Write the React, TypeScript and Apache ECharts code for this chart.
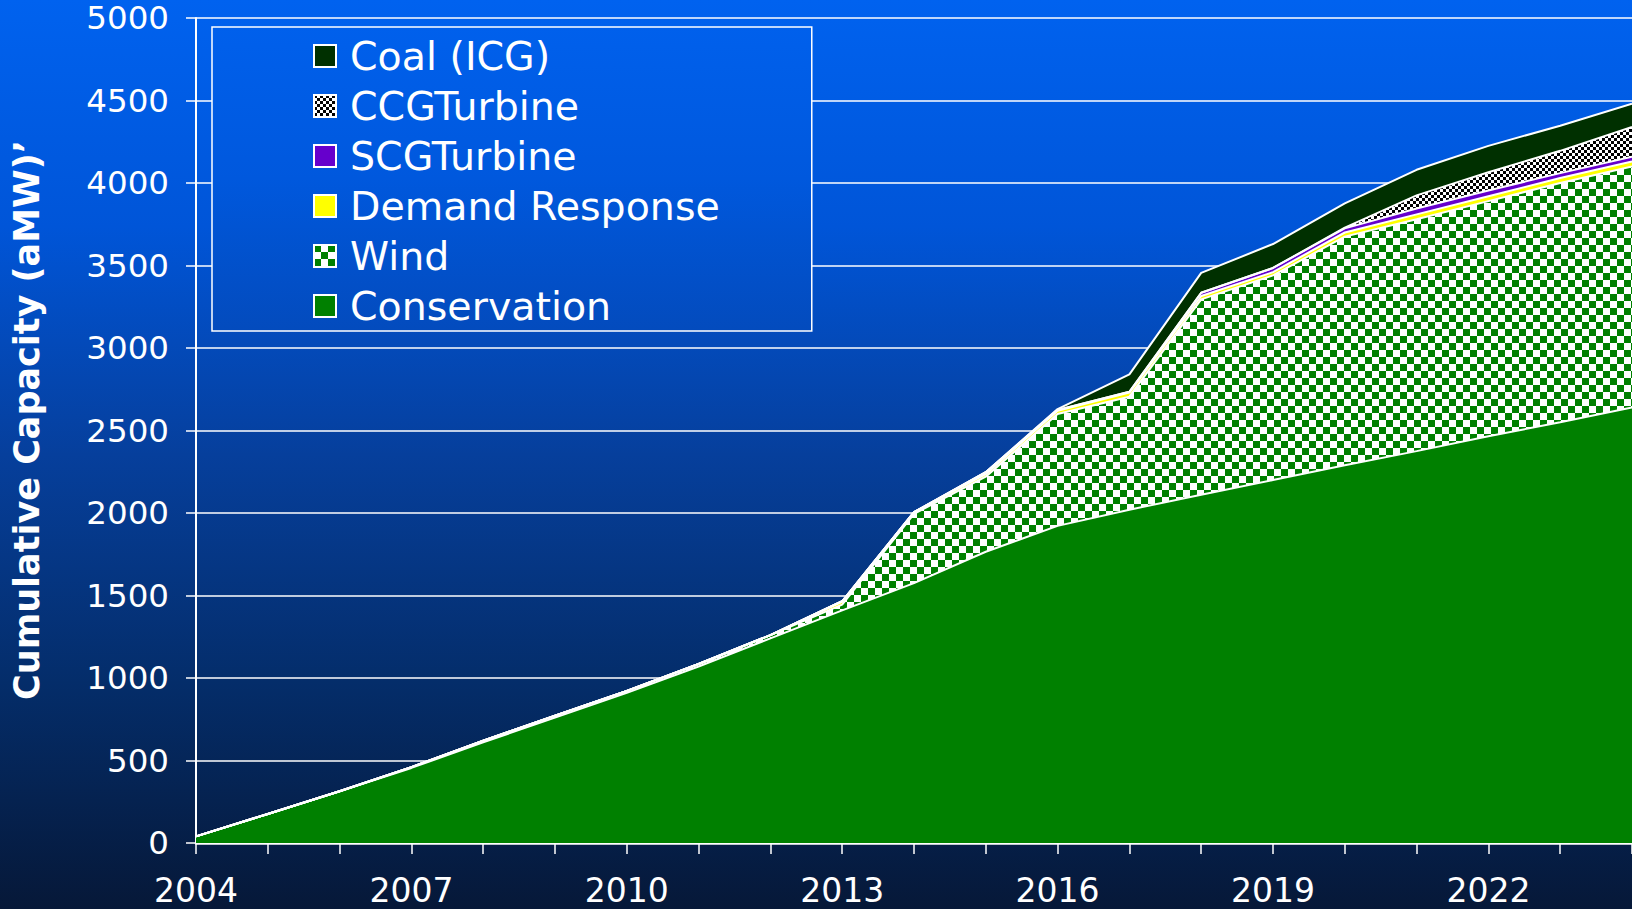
import React, { useEffect, useRef } from 'react';
import * as echarts from 'echarts';

const years = ['2004', '2005', '2006', '2007', '2008', '2009', '2010', '2011', '2012', '2013', '2014', '2015', '2016', '2017', '2018', '2019', '2020', '2021', '2022', '2023', '2024'];
const conservation = [40, 176, 314, 455, 610, 760, 910, 1070, 1240, 1410, 1575, 1765, 1922, 2020, 2110, 2200, 2290, 2375, 2465, 2550, 2640];
const wind = [0, 0, 0, 5, 10, 12, 12, 15, 20, 35, 420, 455, 678, 685, 1185, 1240, 1385, 1405, 1425, 1450, 1460];
const demandResponse = [0, 0, 0, 0, 0, 0, 0, 0, 0, 20, 10, 15, 20, 25, 20, 20, 25, 30, 30, 30, 30];
const scgTurbine = [0, 0, 0, 0, 0, 0, 0, 0, 0, 0, 0, 12, 5, 5, 20, 25, 25, 35, 35, 30, 30];
const ccgTurbine = [0, 0, 0, 0, 0, 0, 0, 0, 0, 0, 0, 0, 0, 0, 0, 0, 5, 80, 110, 135, 180];
const coal = [0, 0, 0, 0, 0, 0, 0, 0, 0, 0, 0, 0, 5, 105, 120, 145, 147, 155, 160, 152, 140];

const seriesNames = ['Conservation', 'Wind', 'Demand Response', 'SCGTurbine', 'CCGTurbine', 'Coal (ICG)'];
const legendOrder = ['Coal (ICG)', 'CCGTurbine', 'SCGTurbine', 'Demand Response', 'Wind', 'Conservation'];
const yAxisTitle = 'Cumulative Capacity (aMW)’';

const FONT = '"DejaVu Sans", Verdana, sans-serif';
const H = 909;

// background gradient stops: [fraction, [r,g,b]]
const bgStops: [number, number[]][] = [
  [0, [0, 98, 239]],
  [0.25, [0, 85, 216]],
  [0.5, [6, 63, 156]],
  [0.75, [4, 45, 106]],
  [1, [6, 24, 56]],
];

function bgAt(f: number): string {
  for (let i = 0; i < bgStops.length - 1; i++) {
    const [f0, c0] = bgStops[i];
    const [f1, c1] = bgStops[i + 1];
    if (f >= f0 && f <= f1) {
      const t = (f - f0) / (f1 - f0);
      const c = c0.map((v, k) => Math.round(v + (c1[k] - v) * t));
      return `rgb(${c[0]},${c[1]},${c[2]})`;
    }
  }
  const c = bgStops[bgStops.length - 1][1];
  return `rgb(${c[0]},${c[1]},${c[2]})`;
}

function checker(size: number, c1: string, c2: string): any {
  const cv = document.createElement('canvas');
  cv.width = size * 2;
  cv.height = size * 2;
  const ctx = cv.getContext('2d')!;
  ctx.fillStyle = c2;
  ctx.fillRect(0, 0, size * 2, size * 2);
  ctx.fillStyle = c1;
  ctx.fillRect(0, 0, size, size);
  ctx.fillRect(size, size, size, size);
  return { image: cv, repeat: 'repeat', imageWidth: size * 2, imageHeight: size * 2 };
}

export default function App() {
  const ref = useRef<HTMLDivElement>(null);

  useEffect(() => {
    if (!ref.current) return;
    const chart = echarts.init(ref.current, null, { renderer: 'svg' });

    const windPattern = checker(7, '#008000', '#ffffff');
    const ccgPattern = checker(3, '#000000', '#ffffff');

    const fills: Record<string, any> = {
      'Conservation': '#008000',
      'Wind': windPattern,
      'Demand Response': '#ffff00',
      'SCGTurbine': '#6600cc',
      'CCGTurbine': ccgPattern,
      'Coal (ICG)': '#003000',
    };
    const dataMap: Record<string, number[]> = {
      'Conservation': conservation,
      'Wind': wind,
      'Demand Response': demandResponse,
      'SCGTurbine': scgTurbine,
      'CCGTurbine': ccgTurbine,
      'Coal (ICG)': coal,
    };

    const legendTop = 27;
    const legendBottom = 331;

    const option: any = {
      animation: false,
      backgroundColor: 'transparent',
      textStyle: { fontFamily: FONT },
      grid: { left: 196, right: -6, top: 18, bottom: 66, containLabel: false },
      legend: {
        show: true,
        orient: 'vertical',
        left: 212,
        top: legendTop,
        icon: 'rect',
        itemWidth: 22,
        itemHeight: 22,
        itemGap: 10,
        padding: [9, 92, 5, 101],
        selectedMode: false,
        borderColor: '#ffffff',
        borderWidth: 1.5,
        backgroundColor: new echarts.graphic.LinearGradient(0, 0, 0, 1, [
          { offset: 0, color: bgAt(legendTop / H) },
          { offset: 0.5, color: bgAt((legendTop + legendBottom) / 2 / H) },
          { offset: 1, color: bgAt(legendBottom / H) },
        ]),
        textStyle: {
          color: '#ffffff',
          fontSize: 39.5,
          lineHeight: 40,
          fontFamily: FONT,
          padding: [0, 0, 0, 9],
        },
        data: legendOrder.map((n) => ({
          name: n,
          itemStyle: { color: fills[n], borderColor: '#ffffff', borderWidth: 2 },
        })),
      },
      xAxis: {
        type: 'category',
        data: years,
        boundaryGap: false,
        axisLine: { show: true, lineStyle: { color: '#ffffff', width: 2.5 } },
        axisTick: { show: true, interval: 0, length: 11, lineStyle: { color: '#ffffff', width: 1.5 } },
        axisLabel: {
          interval: 2,
          color: '#ffffff',
          fontSize: 33,
          margin: 31,
          fontFamily: FONT,
        },
        splitLine: { show: false },
      },
      yAxis: {
        type: 'value',
        min: 0,
        max: 5000,
        interval: 500,
        axisLine: { show: true, lineStyle: { color: '#ffffff', width: 2 } },
        axisTick: { show: true, length: 10, lineStyle: { color: '#ffffff', width: 1.5 } },
        axisLabel: {
          color: '#ffffff',
          fontSize: 32.5,
          margin: 27,
          fontFamily: FONT,
          formatter: (v: number) => String(v),
        },
        splitLine: { show: true, lineStyle: { color: '#ffffff', width: 1.5 } },
      },
      graphic: [
        {
          type: 'text',
          x: 27,
          y: 420,
          rotation: Math.PI / 2,
          style: {
            text: yAxisTitle,
            fill: '#ffffff',
            fontSize: 35,
            fontWeight: 'bold',
            fontFamily: FONT,
            align: 'center',
            verticalAlign: 'middle',
          },
        },
      ],
      series: seriesNames.map((n) => ({
        name: n,
        type: 'line',
        stack: 'total',
        data: dataMap[n],
        symbol: 'none',
        showSymbol: false,
        lineStyle: { color: '#ffffff', width: 2 },
        itemStyle: { color: fills[n] },
        areaStyle: { color: fills[n], opacity: 1 },
        emphasis: { disabled: true },
        silent: true,
      })),
    };

    chart.setOption(option);
    return () => chart.dispose();
  }, []);

  const grad = `linear-gradient(to bottom, ${bgStops
    .map(([f]) => `${bgAt(f)} ${(f * 100).toFixed(1)}%`)
    .join(', ')})`;

  return (
    <div
      ref={ref}
      style={{ position: 'fixed', left: 0, top: 0, width: 1632, height: 909, background: grad }}
    />
  );
}
